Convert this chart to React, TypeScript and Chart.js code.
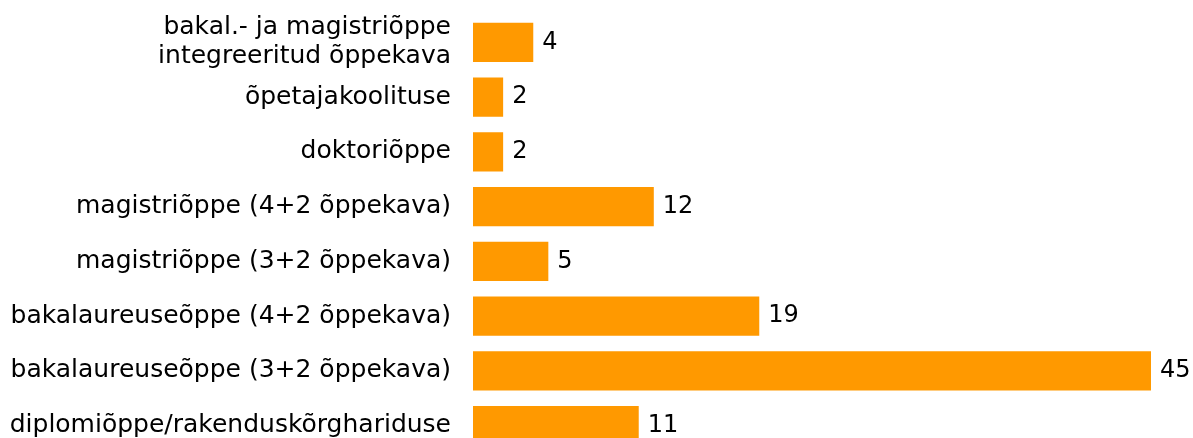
import React, { useEffect, useRef } from "react";
import { Chart, registerables } from "chart.js";

Chart.register(...registerables);

const categories: (string | string[])[] = [
  ["bakal.- ja magistriõppe", "integreeritud õppekava"],
  "õpetajakoolituse",
  "doktoriõppe",
  "magistriõppe (4+2 õppekava)",
  "magistriõppe (3+2 õppekava)",
  "bakalaureuseõppe (4+2 õppekava)",
  "bakalaureuseõppe (3+2 õppekava)",
  "diplomiõppe/rakenduskõrghariduse",
];
const values: number[] = [4, 2, 2, 12, 5, 19, 45, 11];

const FONT = "DejaVu Sans, Verdana, sans-serif";

const valueLabels = {
  id: "valueLabels",
  afterDatasetsDraw(chart: any) {
    const ctx = chart.ctx;
    const meta = chart.getDatasetMeta(0);
    ctx.save();
    ctx.font = `24px ${FONT}`;
    ctx.fillStyle = "#000";
    ctx.textAlign = "left";
    ctx.textBaseline = "middle";
    meta.data.forEach((bar: any, i: number) => {
      ctx.fillText(String(values[i]), bar.x + 9, bar.y);
    });
    ctx.restore();
  },
};

export default function App() {
  const ref = useRef<HTMLCanvasElement>(null);
  useEffect(() => {
    if (!ref.current) return;
    const chart = new Chart(ref.current, {
      type: "bar",
      data: {
        labels: categories,
        datasets: [
          {
            data: values,
            backgroundColor: "#FF9900",
            borderWidth: 0,
            barPercentage: 0.72,
            categoryPercentage: 1,
          },
        ],
      },
      options: {
        indexAxis: "y",
        responsive: false,
        animation: false,
        devicePixelRatio: 1,
        layout: { padding: { top: 15, right: 42, bottom: 0, left: 0 } },
        plugins: {
          legend: { display: false },
          tooltip: { enabled: false },
        },
        scales: {
          x: { display: false, min: 0, max: 45 },
          y: {
            grid: { display: false, drawTicks: false },
            border: { display: false },
            ticks: {
              padding: 22,
              color: "#000",
              font: { family: FONT, size: 25, lineHeight: 1.16 },
              autoSkip: false,
            },
            afterFit: (s: any) => {
              s.width = 473;
              s.paddingTop = 0;
              s.paddingBottom = 0;
            },
          },
        },
      },
      plugins: [valueLabels],
    });
    return () => chart.destroy();
  }, []);
  return (
    <div style={{ position: "fixed", left: 0, top: 0, width: 1193, height: 453, background: "#fff" }}>
      <canvas ref={ref} width={1193} height={453} />
    </div>
  );
}
